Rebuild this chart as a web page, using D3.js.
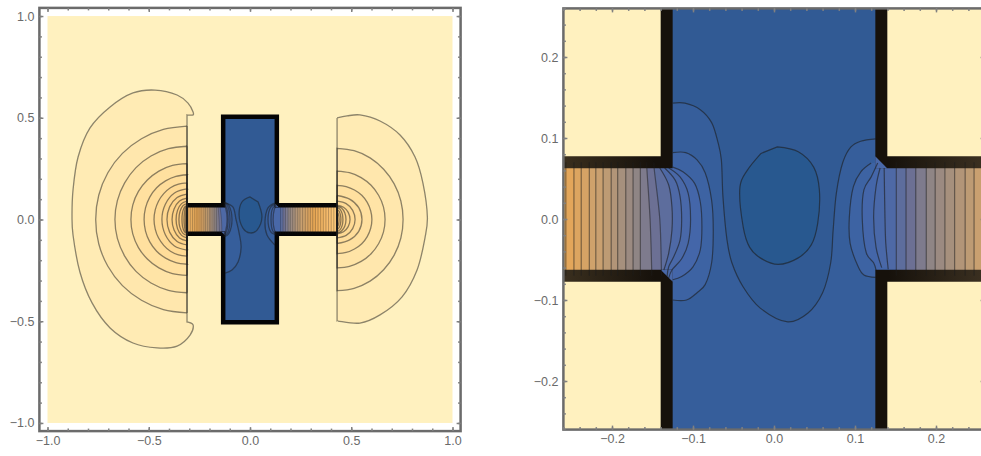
<!DOCTYPE html>
<html>
<head>
<meta charset="utf-8">
<style>
  html, body { margin: 0; background: #fff; }
  svg { display: block; }
  .tick text { font-family: "Liberation Sans", sans-serif; font-size: 12.5px; fill: #6a6a6a; }
</style>
<script src="https://cdn.jsdelivr.net/npm/d3@7/dist/d3.min.js"></script>
</head>
<body>
<svg id="chart" width="981" height="456"></svg>
<script>
// walls of the device, data units
var xThroatL = -0.311, xThroatR = 0.43, xBox = 0.1325, yBox = 0.505, yChannel = 0.07;

// ---- contours left of the left throat, outermost first ----
var lobesLeft = [
  [[-.311,.514],[-.281,.514],[-.281,.528],[-.306,.572],[-.36,.612],[-.469,.636],[-.578,.622],[-.691,.553],[-.79,.45],[-.849,.307],[-.874,.145],[-.879,.012],[-.874,-.076],[-.84,-.258],[-.78,-.41],[-.691,-.533],[-.578,-.607],[-.459,-.631],[-.36,-.622],[-.296,-.568],[-.281,-.518],[-.306,-.504],[-.311,-.504]]
];
// the others are symmetric, upper half only
var lobesLeftInner = [
  [[-.311,.459],[-.428,.443],[-.536,.397],[-.63,.325],[-.702,.23],[-.747,.119],[-.762,0]],
  [[-.311,.36],[-.403,.348],[-.489,.312],[-.563,.255],[-.619,.18],[-.655,.093],[-.667,0]],
  [[-.311,.275],[-.383,.266],[-.45,.238],[-.507,.194],[-.551,.138],[-.579,.071],[-.588,0]],
  [[-.311,.22],[-.366,.212],[-.417,.19],[-.461,.156],[-.495,.11],[-.516,.057],[-.523,0]],
  [[-.311,.18],[-.353,.174],[-.393,.156],[-.426,.127],[-.452,.09],[-.468,.047],[-.474,0]],
  [[-.311,.15],[-.373,.13],[-.418,.075],[-.435,0]],
  [[-.311,.125],[-.36,.108],[-.397,.062],[-.41,0]],
  [[-.311,.105],[-.348,.091],[-.375,.052],[-.385,0]],
  [[-.311,.09],[-.338,.078],[-.358,.045],[-.365,0]],
  [[-.311,.078],[-.331,.068],[-.346,.039],[-.351,0]],
  [[-.311,.07],[-.324,.06],[-.333,.035],[-.336,0]],
  [[-.311,.066],[-.319,.056],[-.324,.03],[-.326,0]],
  [[-.311,.062],[-.315,.05],[-.318,.025],[-.319,0]]
];
// ---- contours right of the right throat ----
var lobesRight = [
  [[.43,.499],[.479,.509],[.543,.514],[.642,.484],[.741,.415],[.815,.307],[.854,.179],[.876,.01],[.864,-.091],[.825,-.248],[.751,-.38],[.642,-.469],[.543,-.509],[.435,-.499],[.43,-.499]]
];
var lobesRightInner = [
  [[.43,.35],[.514,.338],[.593,.303],[.66,.247],[.712,.175],[.745,.091],[.756,0]],
  [[.43,.238],[.491,.23],[.549,.206],[.598,.168],[.635,.119],[.659,.062],[.667,0]],
  [[.43,.168],[.475,.162],[.516,.145],[.552,.119],[.579,.084],[.596,.043],[.602,0]],
  [[.43,.118],[.492,.1],[.537,.058],[.553,0]],
  [[.43,.09],[.475,.078],[.507,.045],[.519,0]],
  [[.43,.07],[.462,.06],[.485,.035],[.494,0]],
  [[.43,.066],[.452,.056],[.468,.033],[.474,0]],
  [[.43,.06],[.445,.05],[.455,.03],[.459,0]],
  [[.43,.05],[.44,.04],[.446,.025],[.449,0]],
  [[.43,.035],[.436,.028],[.44,0]]
];
// ---- channel, box side first ----
var channelBowed = [
  [[-.148,.07],[-.148,.063],[-.141,0],[-.139,-.063],[-.139,-.07]],
  [[-.157,.07],[-.157,.063],[-.153,0],[-.151,-.063],[-.151,-.07]]
];
var channelLeftX = [-.165,-.174,-.183,-.193,-.201,-.211,-.22,-.228,-.238,-.247,-.257,-.266,-.275,-.284,-.293,-.302];
var channelRightX = [.151,.163,.175,.188,.199,.211,.223,.236,.247,.26,.273,.286,.298,.31,.323,.336,.349,.362,.375,.388,.401,.414];

// ---- inside the box, zoomed panel ----
var zoomLong = [[-.125,.143],[-.11,.143],[-.091,.135],[-.077,.119],[-.069,.094],[-.065,.073],[-.063,.027],[-.058,-.026],[-.052,-.054],[-.038,-.084],[-.017,-.11],[.017,-.127],[.042,-.116],[.06,-.091],[.07,-.054],[.073,-.014],[.077,.032],[.085,.07],[.095,.089],[.107,.096],[.126,.099]];
var zoomBlob = [[.004,.089],[.03,.083],[.049,.064],[.056,.036],[.054,-.005],[.046,-.032],[.03,-.048],[.005,-.056],[-.017,-.048],[-.03,-.035],[-.038,-.01],[-.042,.04],[-.033,.06],[-.016,.081]];
var zoomArcsLeft = [
  [[-.125,.082],[-.109,.082],[-.095,.073],[-.085,.057],[-.077,.023],[-.075,-.014],[-.077,-.054],[-.085,-.081],[-.095,-.091],[-.108,-.1],[-.125,-.1]],
  [[-.125,.064],[-.112,.058],[-.098,.044],[-.091,.021],[-.089,-.01],[-.091,-.038],[-.1,-.059],[-.114,-.071],[-.125,-.075]],
  [[-.13,.063],[-.116,.052],[-.106,.032],[-.103,-.001],[-.106,-.03],[-.114,-.049],[-.126,-.063],[-.13,-.073]],
  [[-.135,.063],[-.122,.048],[-.116,.028],[-.114,-.001],[-.116,-.026],[-.124,-.047],[-.13,-.059],[-.132,-.071]],
  [[-.141,.063],[-.13,.042],[-.126,.015],[-.126,-.014],[-.13,-.042],[-.136,-.063]]
];
var zoomArcsRight = [
  [[.12,.069],[.107,.058],[.098,.04],[.093,.002],[.094,-.03],[.104,-.059],[.111,-.069],[.126,-.072]],
  [[.128,.069],[.12,.052],[.111,.036],[.109,-.001],[.114,-.042],[.123,-.054],[.126,-.063]],
  [[.131,.063],[.126,.04],[.123,.002],[.126,-.035],[.133,-.06]],
  [[.136,.063],[.137,.002],[.138,-.03],[.141,-.062]]
];
// ---- inside the box, wide panel (coarser mesh, other shapes) ----
var wideBlob = [[0,.111],[-.04,.086],[-.054,.022],[-.035,-.042],[0,-.066],[.035,-.052],[.059,.012],[.04,.086]];
var wideArcsLeft = [
  [[-.123,.081],[-.084,.061],[-.069,0],[-.054,-.066],[-.044,-.135],[-.059,-.209],[-.089,-.248],[-.123,-.263]],
  [[-.13,.085],[-.105,.07],[-.089,0],[-.105,-.07],[-.13,-.085]],
  [[-.13,.08],[-.11,.065],[-.099,0],[-.11,-.065],[-.13,-.08]],
  [[-.13,.075],[-.116,.06],[-.108,0],[-.116,-.06],[-.13,-.075]],
  [[-.13,.07],[-.12,.055],[-.113,0],[-.12,-.055],[-.13,-.07]]
];
var wideArcsRight = [
  [[.123,.081],[.089,.057],[.074,-.012],[.084,-.076],[.123,-.125]],
  [[.13,.075],[.102,.06],[.089,0],[.102,-.06],[.13,-.075]],
  [[.13,.07],[.112,.055],[.104,0],[.112,-.055],[.13,-.07]],
  [[.13,.067],[.12,.05],[.114,0],[.12,-.05],[.13,-.067]]
];

// colour of each contour level, blue is lowest
var levelStops = [1,2,5,9,15,21,26,31,33,35,37,38,39,40,41];
var levelColours = ["#fff1bf","#ffebb4","#ffe09f","#ffd489","#f8bf70","#e9a855","#c9a070","#8f8585","#6c7094","#4e69a6","#4466a9","#3d63a3","#365e9b","#315a94","#28588f"];
var colour = d3.scaleLinear().domain(levelStops).range(levelColours).interpolate(d3.interpolateRgb);

function mirror(half) {
  return half.concat(half.slice(0, -1).reverse().map(function(p) { return [p[0], -p[1]]; }));
}
function straight(xs) {
  return xs.map(function(v) { return [[v, yChannel], [v, -yChannel]]; });
}

var allLobesLeft = lobesLeft.concat(lobesLeftInner.map(mirror));
var allLobesRight = lobesRight.concat(lobesRightInner.map(mirror));
var channelLeft = channelBowed.concat(straight(channelLeftX));
var channelRight = straight(channelRightX);

var svg = d3.select("#chart");
var defs = svg.append("defs");
var fade = defs.append("linearGradient").attr("id", "wallFade")
  .attr("gradientUnits", "userSpaceOnUse").attr("x1", 563).attr("x2", 981).attr("y1", 0).attr("y2", 0);
[[0, "#3a2f1e"], [.22, "#16110b"], [.78, "#16110b"], [1, "#3a2f20"]].forEach(function(s) {
  fade.append("stop").attr("offset", s[0]).attr("stop-color", s[1]);
});

function drawPanel(id, x, y, opt) {
  var g = svg.append("g").attr("id", id);
  var line = d3.line().x(function(d) { return x(d[0]); }).y(function(d) { return y(d[1]); })
    .curve(d3.curveCatmullRom.alpha(0.2));
  var xd = x.domain(), yd = y.domain();

  defs.append("clipPath").attr("id", id + "-clip").append("rect")
    .attr("x", x(xd[0])).attr("y", y(yd[1])).attr("width", x(xd[1]) - x(xd[0])).attr("height", y(yd[0]) - y(yd[1]));
  var plot = g.append("g").attr("clip-path", "url(#" + id + "-clip)");

  function closed(pts, wall) {
    var a = pts[0], b = pts[pts.length - 1];
    return line(pts) + "L" + x(wall) + "," + y(b[1]) + "L" + x(wall) + "," + y(a[1]) + "Z";
  }
  function box(x0, x1, y0, y1, fill) {
    plot.append("rect").attr("x", x(x0)).attr("y", y(y1)).attr("width", x(x1) - x(x0)).attr("height", y(y0) - y(y1)).attr("fill", fill);
  }
  function band(pts, wall, level) {
    plot.append("path").attr("d", closed(pts, wall)).attr("fill", colour(level));
  }
  function outline(d, op, w) {
    plot.append("path").attr("d", d).attr("fill", "none").attr("stroke", "#1c1c1c")
      .attr("stroke-opacity", op || opt.lineOpacity).attr("stroke-width", w || opt.lineWidth);
  }

  // cream background
  box(opt.cream[0], opt.cream[1], opt.cream[0], opt.cream[1], colour(1));

  // outer lobes, closed along the wall so the wall darkens towards the channel
  allLobesLeft.forEach(function(pts, i) { band(pts, xThroatL, 2 + i); });
  allLobesRight.forEach(function(pts, i) { band(pts, xThroatR, 2 + i); });

  // box
  box(-xBox, xBox, -yBox, yBox, colour(opt.boxLevel));
  if (opt.long) {
    plot.append("path").attr("fill", colour(40))
      .attr("d", line(opt.long) + "L" + x(xBox) + "," + y(opt.long[opt.long.length - 1][1]) + "L" + x(xBox) + "," + y(yBox) + "L" + x(-xBox) + "," + y(yBox) + "L" + x(-xBox) + "," + y(opt.long[0][1]) + "Z");
  }
  plot.append("path").attr("d", line(opt.blob) + "Z").attr("fill", colour(41));

  // blue to orange through the channel, each band reaches back to its throat
  opt.arcsLeft.forEach(function(pts, i) { band(pts, xThroatL, opt.levelsLeft[i]); });
  channelLeft.forEach(function(pts, i) { band(pts, xThroatL, 33 - i); });
  opt.arcsRight.forEach(function(pts, i) { band(pts, xThroatR, opt.levelsRight[i]); });
  channelRight.forEach(function(pts, i) { band(pts, xThroatR, 34 - i); });

  // cream blocks beside the box hide what overran the channel
  box(xThroatL, -xBox, yChannel, 0.3, colour(1));
  box(xThroatL, -xBox, -0.3, -yChannel, colour(1));
  box(xBox, xThroatR, yChannel, 0.3, colour(1));
  box(xBox, xThroatR, -0.3, -yChannel, colour(1));

  // device outline
  var wall = [[xThroatL, yChannel], [-xBox, yChannel], [-xBox, yBox], [xBox, yBox], [xBox, yChannel], [xThroatR, yChannel]];
  var wall2 = wall.map(function(p) { return [p[0], -p[1]]; });
  var wallLine = d3.line().x(function(d) { return x(d[0]); }).y(function(d) { return y(d[1]); });
  [wall, wall2].forEach(function(w) {
    plot.append("path").attr("d", wallLine(w)).attr("fill", "none")
      .attr("stroke", opt.wallColour).attr("stroke-width", opt.wallWidth).attr("stroke-linejoin", "miter");
  });
  // two corners of the mesh are cut off
  var h = opt.cut;
  [[[xBox - h, yChannel + h], [xBox + h, yChannel - h], [xBox - h, yChannel - h]],
   [[-xBox - h, -yChannel + h], [-xBox + h, -yChannel - h], [-xBox + h, -yChannel + h]]].forEach(function(tri) {
    plot.append("path").attr("d", wallLine(tri) + "Z").attr("fill", colour(36));
  });

  // contour lines
  allLobesLeft.forEach(function(pts) { outline(closed(pts, xThroatL)); });
  allLobesRight.forEach(function(pts) { outline(closed(pts, xThroatR)); });
  opt.arcsLeft.concat(opt.arcsRight).forEach(function(pts) { outline(line(pts)); });
  channelLeft.concat(channelRight).forEach(function(pts) { outline(line(pts), opt.channelOpacity, opt.channelWidth); });
  if (opt.long) outline(line(opt.long));
  outline(line(opt.blob) + "Z");

  // frame and ticks
  g.append("rect").attr("x", x(xd[0])).attr("y", y(yd[1])).attr("width", x(xd[1]) - x(xd[0])).attr("height", y(yd[0]) - y(yd[1]))
    .attr("fill", "none").attr("stroke", "#6b6b6b").attr("stroke-width", 2.5);

  function axis(maker, scale, values, len, label, tx, ty) {
    var a = maker(scale).tickValues(values).tickSize(len).tickSizeOuter(0);
    a.tickFormat(label ? d3.format(".1f") : "");
    a.tickPadding(label ? opt.labelPad : 0);
    var ag = g.append("g").attr("transform", "translate(" + tx + "," + ty + ")").call(a);
    ag.select(".domain").remove();
    ag.selectAll("line").attr("stroke", "#808080").attr("stroke-width", 1.5);
    return ag;
  }
  var fx = x(xd[0]), lx = x(xd[1]), ty = y(yd[1]), by = y(yd[0]);
  var T = opt.majorLen, t = opt.minorLen;
  axis(d3.axisLeft, y, opt.minor, -t, false, fx, 0);
  axis(d3.axisRight, y, opt.minor, -t, false, lx, 0);
  axis(d3.axisTop, x, opt.minor, -t, false, 0, ty);
  axis(d3.axisBottom, x, opt.minor, -t, false, 0, by);
  axis(d3.axisRight, y, opt.major, -T, false, lx, 0);
  axis(d3.axisTop, x, opt.major, -T, false, 0, ty);
  axis(d3.axisLeft, y, opt.major, -T, true, fx, 0).selectAll("text").attr("x", -opt.labelPad);
  axis(d3.axisBottom, x, opt.major, -T, true, 0, by).selectAll("text").attr("y", opt.labelPad);
}

var minorWide = d3.range(-10, 11).map(function(d) { return d / 10; });
var majorWide = [-1, -.5, 0, .5, 1];
var minorZoom = d3.range(-13, 14).map(function(d) { return d * 0.02; });
var majorZoom = [-.2, -.1, 0, .1, .2];

drawPanel("wide",
  d3.scaleLinear().domain([-1.04, 1.04]).range([39.4, 460.6]),
  d3.scaleLinear().domain([-1.04, 1.04]).range([431.1, 7.9]),
  { cream: [-1, 1], boxLevel: 40, blob: wideBlob, arcsLeft: wideArcsLeft, arcsRight: wideArcsRight,
    levelsLeft: [39, 38, 37, 36, 35], levelsRight: [39, 38, 37, 36], cut: .008,
    wallColour: "#050505", wallWidth: 4.5, lineOpacity: 0.5, lineWidth: 1.3, channelOpacity: 0.4, channelWidth: 0.7,
    minor: minorWide, major: majorWide, majorLen: 4, minorLen: 2.5, labelPad: 5 });

drawPanel("zoom",
  d3.scaleLinear().domain([-.26, .26]).range([563.4, 984.6]),
  d3.scaleLinear().domain([-.26, .26]).range([429.6, 8.4]),
  { cream: [-.26, .26], boxLevel: 39, long: zoomLong, blob: zoomBlob, arcsLeft: zoomArcsLeft, arcsRight: zoomArcsRight,
    levelsLeft: [38, 37, 36, 35, 34], levelsRight: [38, 37, 36, 35], cut: .0075,
    wallColour: "url(#wallFade)", wallWidth: 12, lineOpacity: 0.6, lineWidth: 1.2, channelOpacity: 0.5, channelWidth: 1.2,
    minor: minorZoom, major: majorZoom, majorLen: 4, minorLen: 2.5, labelPad: 5 });
</script>
</body>
</html>
